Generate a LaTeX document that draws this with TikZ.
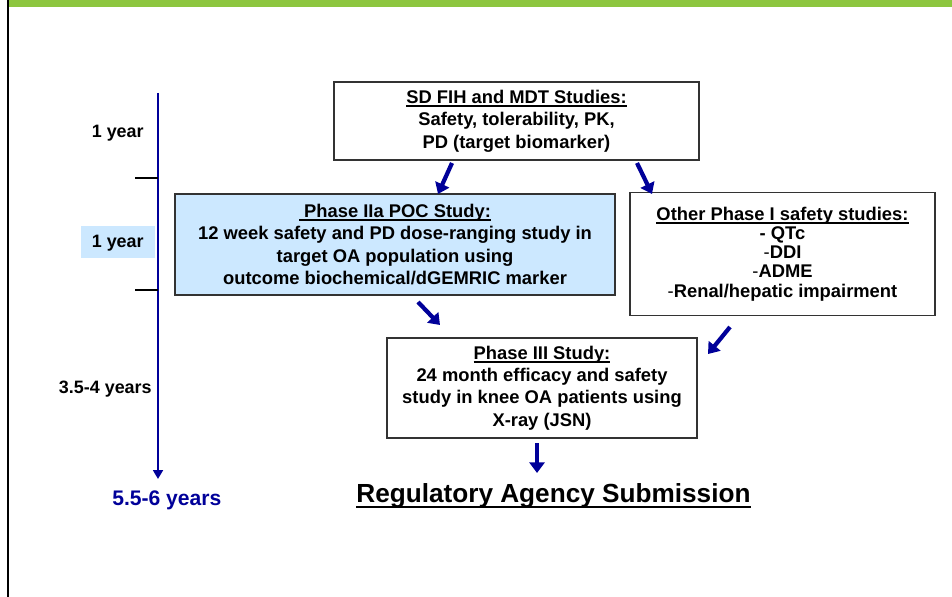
\documentclass[tikz,border=0pt]{standalone}
\usepackage{fontspec}
\setmainfont{Liberation Sans}
\usetikzlibrary{arrows.meta}
\definecolor{flowblue}{HTML}{000099}
\definecolor{paleblue}{HTML}{CCE8FF}
\definecolor{bargreen}{HTML}{8DC63F}
\newcommand{\ulhead}[1]{\setbox0\hbox{#1}\rlap{\rule[-2.1pt]{\wd0}{1pt}}\box0}
\newcommand{\ulbig}[1]{\setbox0\hbox{#1}\rlap{\rule[-3.6pt]{\wd0}{1.4pt}}\box0}
\tikzset{
  studybox/.style={draw=black!80, line width=0.8pt, align=center, inner sep=0pt,
    font=\bfseries\fontsize{10.45}{12.8}\selectfont},
  flow/.style={flowblue, line width=2.4pt, -{Triangle[length=6pt,width=8.5pt]}},
  yearlbl/.style={anchor=base east, inner sep=0pt, font=\bfseries\fontsize{10.2}{12}\selectfont},
}
\begin{document}
\begin{tikzpicture}[x=0.02cm, y=-0.02cm]
  \useasboundingbox (0,0) rectangle (952,597);
  \fill[bargreen] (8,0) rectangle (952,7);
  \draw[line width=1.3pt] (8,0) -- (8,597);

  % time line
  \fill[paleblue] (81,226) rectangle (155,258);
  \coordinate (tTop) at (158,93);
  \coordinate (tEnd) at (158,479);
  \draw[flowblue, line width=1.7pt, -{Triangle[length=5pt,width=5.5pt]}] (tTop) -- (tEnd);
  \draw[line width=0.6pt] (135,178) -- (158,178);
  \draw[line width=0.6pt] (135,290) -- (158,290);
  \node[yearlbl] (yrOne) at (144,138) {1 year};
  \node[yearlbl] (yrTwo) at (144,248) {1 year};
  \node[yearlbl] (yrRest) at (152,393) {3.5-4 years};
  \node[anchor=base west, inner sep=0pt, text=flowblue, font=\bfseries\fontsize{12}{14}\selectfont] (yrTotal) at (112,505) {5.5-6 years};

  % studies
  \node[studybox, minimum width=7.3cm, minimum height=1.56cm] (sd) at (516.5,121)
    {\ulhead{SD FIH and MDT Studies:}\\ Safety, tolerability, PK,\\ PD (target biomarker)};
  \node[studybox, fill=paleblue, minimum width=8.8cm, minimum height=2.02cm] (poc) at (395,244.5)
    {\ulhead{\ Phase IIa POC Study:}\\ 12 week safety and PD dose-ranging study in\\ target OA population using\\ outcome biochemical/dGEMRIC marker};
  \node[studybox, font=\bfseries\fontsize{10.45}{10.9}\selectfont, minimum width=6.1cm, minimum height=2.46cm] (other) at (782.5,254)
    {\ulhead{Other Phase I safety studies:}\\ - QTc\\ {\mdseries-}DDI\\ {\mdseries-}ADME\\ {\mdseries-}Renal/hepatic impairment};
  \node[studybox, minimum width=6.2cm, minimum height=2.0cm] (ph3) at (542,388)
    {\ulhead{Phase III Study:}\\ 24 month efficacy and safety\\ study in knee OA patients using\\ X-ray (JSN)};
  \node[anchor=base west, inner sep=0pt, font=\bfseries\fontsize{14.9}{17}\selectfont] (reg) at (356,502)
    {\ulbig{Regulatory Agency Submission}};

  % arrows
  \coordinate (a1s) at (452,163);  \coordinate (a1e) at (438,194);
  \coordinate (a2s) at (637,163);  \coordinate (a2e) at (652,194);
  \coordinate (a3s) at (418,302);  \coordinate (a3e) at (440,325);
  \coordinate (a4s) at (730,327);  \coordinate (a4e) at (708,354);
  \coordinate (a5s) at (537,443);  \coordinate (a5e) at (537,473);
  \draw[flow] (a1s) -- (a1e);
  \draw[flow] (a2s) -- (a2e);
  \draw[flow] (a3s) -- (a3e);
  \draw[flow] (a4s) -- (a4e);
  \draw[flow] (a5s) -- (a5e);
\end{tikzpicture}
\end{document}
